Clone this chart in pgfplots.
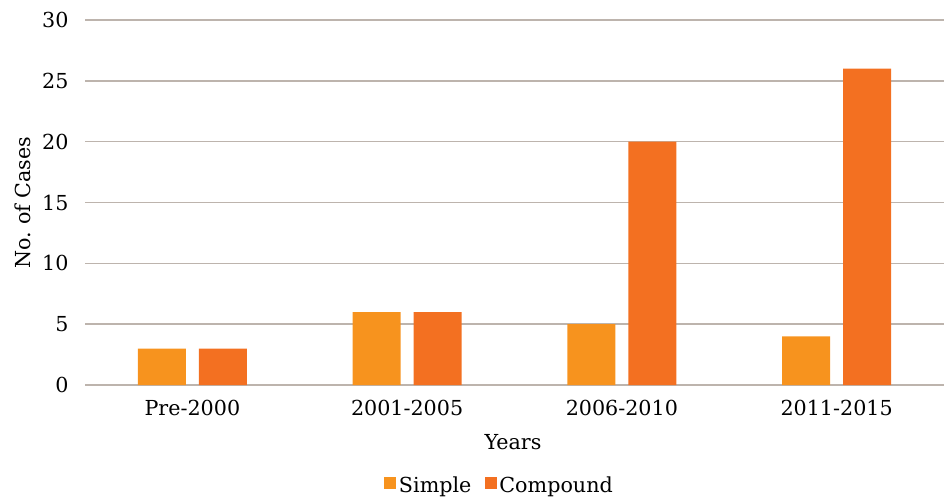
\documentclass[border=0pt]{standalone}
\usepackage{pgfplots}
\pgfplotsset{compat=1.18}
\usepackage{fontspec}
\setmainfont{DejaVu Serif}
\definecolor{simplec}{HTML}{F7931E}
\definecolor{compc}{HTML}{F37021}
\definecolor{gridc}{HTML}{BDB4AD}
\begin{document}
\frenchspacing
\fontsize{15.5pt}{18pt}\selectfont
\begin{tikzpicture}
\useasboundingbox (0,0) rectangle (708pt,372.75pt);
\begin{axis}[
  at={(63.75pt,84pt)}, anchor=south west,
  scale only axis, width=644.25pt, height=273.75pt,
  xmin=-0.5, xmax=3.5, ymin=0, ymax=30,
  ybar=9.75pt, bar width=36pt,
  xtick={0,1,2,3},
  xticklabels={Pre-2000,2001-2005,2006-2010,2011-2015},
  ytick={0,5,...,30},
  major tick length=0pt,
  axis lines=left,
  x axis line style={-, draw=gridc, line width=1.2pt},
  y axis line style={draw=none},
  ymajorgrids, grid style={gridc, line width=1.2pt},
  /pgf/number format/assume math mode=true,
  yticklabel style={xshift=-7pt},
  xticklabel style={yshift=-6pt},
  ylabel={No.\ of Cases},
  ylabel style={at={(axis description cs:-0.073,0.5)}, anchor=center},
  legend columns=2,
  legend style={draw=none, at={(axis description cs:0.483,-0.278)}, anchor=center,
    /tikz/every even column/.append style={column sep=8pt}},
  legend image code/.code={\fill[#1] (0pt,-2pt) rectangle (9pt,7pt);},
]
\addplot[fill=simplec, draw=none] coordinates {(0,3) (1,6) (2,5) (3,4)};
\addplot[fill=compc, draw=none] coordinates {(0,3) (1,6) (2,20) (3,26)};
\legend{Simple,Compound}
\end{axis}
\node at (384.75pt,41.25pt) {Years};
\end{tikzpicture}
\end{document}
